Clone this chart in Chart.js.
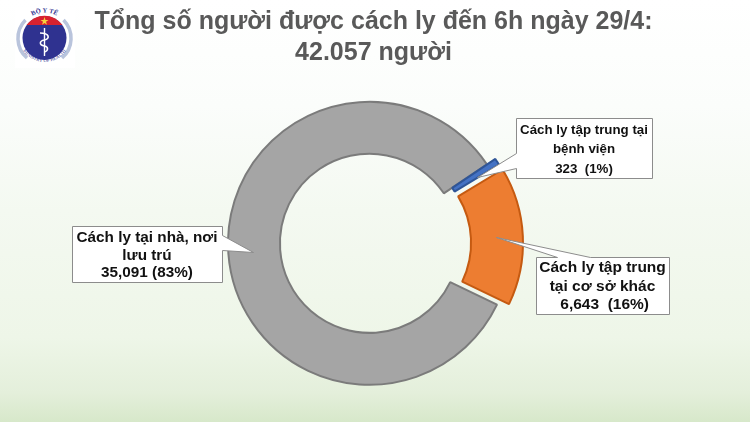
<!DOCTYPE html>
<html lang="vi"><head><meta charset="utf-8">
<style>
html,body{margin:0;padding:0;width:750px;height:422px;overflow:hidden;background:linear-gradient(180deg,#ffffff 0%,#fbfdfb 25%,#f4f9f1 50%,#eef6e8 80%,#e4efdb 93%,#d7e8ca 100%);}
#logo{position:absolute;left:15px;top:8px;}
#c{position:absolute;left:0;top:0;}
</style></head><body>
<svg id="logo" width="60" height="60" viewBox="15 8 60 60" xmlns="http://www.w3.org/2000/svg">
<rect x="15" y="8" width="60" height="60" fill="#ffffff"/>
<path d="M 25.5 20 A 26 26 0 0 0 27 58" fill="none" stroke="#b9c4dc" stroke-width="3.5"/>
<path d="M 63.5 20 A 26 26 0 0 1 62 58" fill="none" stroke="#b9c4dc" stroke-width="3.5"/>
<circle cx="44.5" cy="38" r="22" fill="#2f3290"/>
<path d="M 26.5 25 A 22 22 0 0 1 62.5 25 Z" fill="#d8222f"/>
<path d="M 44.5 17 l1 3 h3 l-2.5 1.8 l1 3 l-2.5 -1.8 l-2.5 1.8 l1 -3 l-2.5 -1.8 h3 z" fill="#f7d23e"/>
<path d="M 44.5 28 V 56" stroke="#fff" stroke-width="1.4"/>
<path d="M 40 33 C 50 33 50 39 44.5 40 C 39 41 39 45 44.5 46 C 49 47 48 51 44.5 52" fill="none" stroke="#fff" stroke-width="1.6"/>
<defs><path id="arcTop" d="M 28 19 A 24 24 0 0 1 61 19"/><path id="arcBot" d="M 22 49 A 26 26 0 0 0 67 49"/></defs>
<text font-family="Liberation Serif" font-size="6.5" font-weight="bold" fill="#2f3290"><textPath href="#arcTop" startOffset="50%" text-anchor="middle">BỘ Y TẾ</textPath></text>
<text font-family="Liberation Serif" font-size="4.8" fill="#2f3290"><textPath href="#arcBot" startOffset="50%" text-anchor="middle">MINISTRY OF HEALTH</textPath></text>
</svg>
<canvas id="c" width="750" height="422"></canvas>
<script src="https://cdn.jsdelivr.net/npm/chart.js@4/dist/chart.umd.min.js"></script>
<script>
const titleLines = ["Tổng số người được cách ly đến 6h ngày 29/4:", "42.057 người"];
const categories = ["Cách ly tại nhà, nơi lưu trú", "Cách ly tập trung tại bệnh viện", "Cách ly tập trung tại cơ sở khác"];
const values = [35091, 323, 6643];
const sliceColors = ["#a5a5a5", "#4472c4", "#ed7d31"];
const sliceBorders = ["#7b7b7b", "#2f5597", "#c55a11"];
const sliceExplode = [0, 10, 12];

const calloutLines = [
  ["Cách ly tại nhà, nơi", "lưu trú", "35,091 (83%)"],
  ["Cách ly tập trung tại", "bệnh viện", "323  (1%)"],
  ["Cách ly tập trung", "tại cơ sở khác", " 6,643  (16%)"]
];
const calloutBoxes = [
  {x:72, y:226, w:150, h:56, font:15.3, top:238, step:17.5,
   outline:[[72,226],[222,226],[222,235],[253,252],[222,250],[222,282],[72,282]]},
  {x:516, y:118, w:136, h:60, font:13.3, top:130, step:19.5,
   outline:[[516,118],[652,118],[652,178],[516,178],[516,168],[477,177],[516,153]]},
  {x:536, y:257, w:133, h:57, font:15.5, top:268, step:18.5,
   outline:[[536,257],[557,257],[496,237],[590,257],[669,257],[669,314],[536,314]]}
];

const donutCentre = {x:369.5, y:243.3, half:170};

const placeDonut = {
  id: "placeDonut",
  afterLayout(chart) {
    const a = chart.chartArea;
    a.left = donutCentre.x - donutCentre.half;
    a.right = donutCentre.x + donutCentre.half;
    a.top = donutCentre.y - donutCentre.half;
    a.bottom = donutCentre.y + donutCentre.half;
    a.width = a.height = donutCentre.half * 2;
  },
  afterDatasetsUpdate(chart) {
    chart.getDatasetMeta(0).data.forEach((arc, i) => {
      const mid = (arc.startAngle + arc.endAngle) / 2;
      arc.x += Math.cos(mid) * sliceExplode[i];
      arc.y += Math.sin(mid) * sliceExplode[i];
    });
  }
};

const calloutPlugin = {
  id: "callouts",
  afterDatasetsDraw(chart) {
    const ctx = chart.ctx;
    calloutBoxes.forEach((b, i) => {
      ctx.save();
      ctx.beginPath();
      b.outline.forEach((p, k) => k ? ctx.lineTo(p[0] + .5, p[1] + .5) : ctx.moveTo(p[0] + .5, p[1] + .5));
      ctx.closePath();
      ctx.fillStyle = "#ffffff";
      ctx.fill();
      ctx.strokeStyle = "#8c8c8c";
      ctx.lineWidth = 1;
      ctx.stroke();
      ctx.fillStyle = "#111111";
      ctx.font = "bold " + b.font + "px 'Liberation Sans'";
      ctx.textAlign = "center";
      ctx.textBaseline = "middle";
      calloutLines[i].forEach((t, k) => ctx.fillText(t, b.x + b.w / 2, b.top + k * b.step));
      ctx.restore();
    });
  }
};

new Chart(document.getElementById("c"), {
  type: "doughnut",
  data: { labels: categories, datasets: [{
    data: values,
    backgroundColor: sliceColors,
    borderColor: sliceBorders,
    borderWidth: 2,
    borderAlign: "center"
  }]},
  options: {
    responsive: false,
    animation: false,
    rotation: 115.7,
    radius: 141.5,
    cutout: "63.3%",
    layout: { padding: { left: 0, right: 3, top: 0, bottom: 0 } },
    plugins: {
      legend: { display: false },
      tooltip: { enabled: false },
      title: {
        display: true,
        text: titleLines,
        color: "#595959",
        font: { family: "'Liberation Sans'", size: 25, weight: "bold", lineHeight: 1.22 },
        padding: { top: 7, bottom: 0 }
      }
    }
  },
  plugins: [placeDonut, calloutPlugin]
});
</script>
</body></html>
